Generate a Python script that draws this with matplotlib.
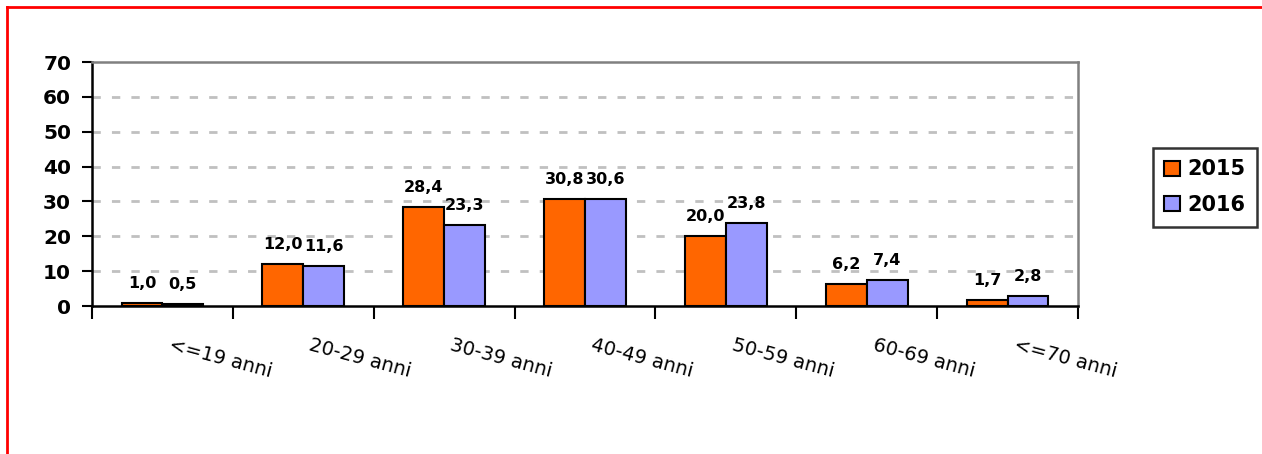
import matplotlib
matplotlib.use("Agg")
import matplotlib.pyplot as plt
from matplotlib.lines import Line2D
from matplotlib.patches import Patch
import numpy as np

categories = ["<=19 anni", "20-29 anni", "30-39 anni", "40-49 anni",
              "50-59 anni", "60-69 anni", "<=70 anni"]
values_2015 = [1.0, 12.0, 28.4, 30.8, 20.0, 6.2, 1.7]
values_2016 = [0.5, 11.6, 23.3, 30.6, 23.8, 7.4, 2.8]
series_names = ["2015", "2016"]
y_ticks = [0, 10, 20, 30, 40, 50, 60, 70]

color_2015 = "#FF6600"
color_2016 = "#9999FF"

plt.rcParams["font.family"] = ["DejaVu Sans"]

fig = plt.figure(figsize=(12.62, 4.54), dpi=100)
ax = fig.add_axes([92 / 1262, 1 - 306 / 454, (1078 - 92) / 1262, (306 - 62) / 454])

x = np.arange(len(categories))
bw = 0.29
b1 = ax.bar(x - bw / 2, values_2015, bw, color=color_2015, edgecolor="black",
            linewidth=1.5, zorder=3)
b2 = ax.bar(x + bw / 2, values_2016, bw, color=color_2016, edgecolor="black",
            linewidth=1.5, zorder=3)

def fmt(v):
    return f"{v:.1f}".replace(".", ",")

for bars, vals in ((b1, values_2015), (b2, values_2016)):
    for rect, v in zip(bars, vals):
        ax.annotate(fmt(v), (rect.get_x() + rect.get_width() / 2, v),
                    xytext=(0, 12), textcoords="offset pixels",
                    ha="center", va="bottom", fontsize=11.5,
                    fontweight="bold", zorder=4)

ax.set_xlim(-0.5, len(categories) - 0.5)
ax.set_ylim(0, 70)
ax.set_yticks(y_ticks)
ax.set_yticklabels([str(t) for t in y_ticks], fontsize=14.5, fontweight="bold")

# gridlines
for t in y_ticks[1:-1]:
    ax.axhline(t, color="#C0C0C0", linewidth=2, linestyle=(0, (3, 4)), zorder=1)

ax.set_xticks(np.arange(len(categories) + 1) - 0.5)
ax.set_xticklabels([])
ax.tick_params(axis="x", direction="out", length=9, width=1.5, color="black")
ax.tick_params(axis="y", direction="out", length=7, width=1.5, color="black", pad=8)

for i, c in enumerate(categories):
    ax.annotate(c, (i, 0), xytext=(9, -30), textcoords="offset pixels",
                rotation=-15, rotation_mode="anchor", ha="left", va="top",
                fontsize=14, annotation_clip=False)

for s in ("left", "bottom"):
    ax.spines[s].set_color("black")
    ax.spines[s].set_linewidth(1.8)
for s in ("top", "right"):
    ax.spines[s].set_color("#808080")
    ax.spines[s].set_linewidth(1.8)

handles = [Patch(facecolor=color_2015, edgecolor="black", linewidth=1.5),
           Patch(facecolor=color_2016, edgecolor="black", linewidth=1.5)]
leg = fig.legend(handles, series_names, loc="upper left",
                 bbox_to_anchor=(1153 / 1262, 1 - 148 / 454),
                 prop={"size": 15, "weight": "bold"}, frameon=True, fancybox=False,
                 handlelength=0.75, handleheight=0.75, handletextpad=0.35,
                 borderpad=0.55, labelspacing=0.75, borderaxespad=0)
leg.get_frame().set_edgecolor("black")
leg.get_frame().set_linewidth(1.8)

# red frame
fig.add_artist(Line2D([7 / 1262, 1.0], [1 - 7 / 454, 1 - 7 / 454],
                      transform=fig.transFigure, color="#FF0000", linewidth=2))
fig.add_artist(Line2D([7 / 1262, 7 / 1262], [0, 1 - 7 / 454],
                      transform=fig.transFigure, color="#FF0000", linewidth=2))

fig.savefig("out.png", dpi=100)
